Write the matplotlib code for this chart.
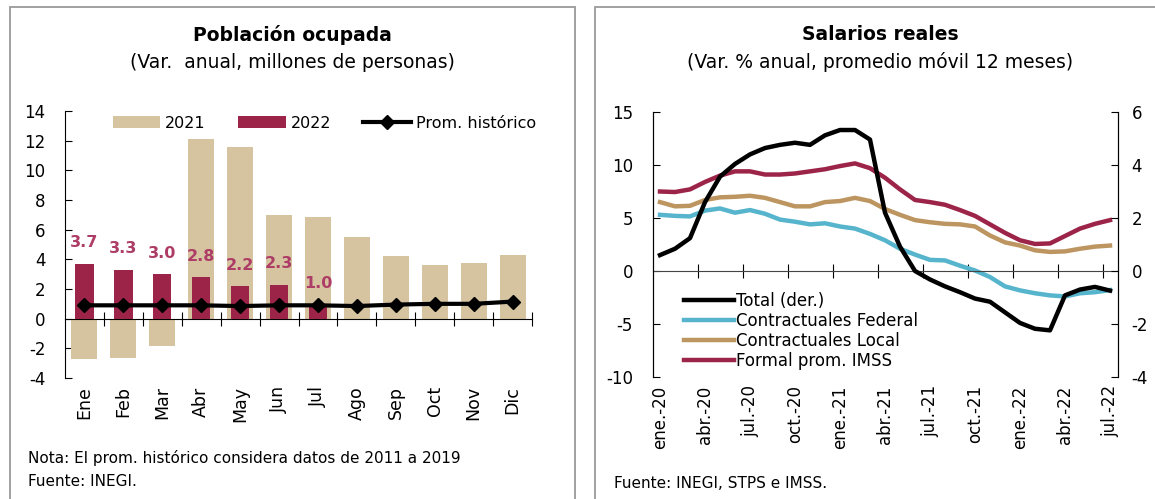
import numpy as np
import matplotlib.pyplot as plt
from matplotlib.patches import Rectangle

plt.rcParams['font.family'] = ['DejaVu Sans']
plt.rcParams['axes.unicode_minus'] = False

# --- Población ocupada (left panel) ---
meses = ['Ene', 'Feb', 'Mar', 'Abr', 'May', 'Jun', 'Jul', 'Ago', 'Sep', 'Oct', 'Nov', 'Dic']
pob_2021 = [-2.75, -2.65, -1.85, 12.1, 11.6, 7.0, 6.85, 5.5, 4.25, 3.65, 3.75, 4.3]
pob_2022 = [3.7, 3.3, 3.0, 2.8, 2.2, 2.3, 1.0]
prom_hist = [0.9, 0.9, 0.9, 0.9, 0.85, 0.9, 0.9, 0.85, 0.95, 1.0, 1.0, 1.15]

# --- Salarios reales (right panel), monthly ene.-20 .. jul.-22 ---
fechas = ['ene.-20', 'feb.-20', 'mar.-20', 'abr.-20', 'may.-20', 'jun.-20', 'jul.-20',
          'ago.-20', 'sep.-20', 'oct.-20', 'nov.-20', 'dic.-20', 'ene.-21', 'feb.-21',
          'mar.-21', 'abr.-21', 'may.-21', 'jun.-21', 'jul.-21', 'ago.-21', 'sep.-21',
          'oct.-21', 'nov.-21', 'dic.-21', 'ene.-22', 'feb.-22', 'mar.-22', 'abr.-22',
          'may.-22', 'jun.-22', 'jul.-22']
total_der = [0.6, 0.84, 1.24, 2.6, 3.56, 4.04, 4.4, 4.64, 4.76, 4.84, 4.76, 5.12, 5.32,
             5.32, 4.96, 2.2, 0.92, 0.0, -0.32, -0.58, -0.8, -1.04, -1.16, -1.56, -1.96,
             -2.18, -2.24, -0.92, -0.7, -0.6, -0.74]
contr_federal = [5.3, 5.2, 5.15, 5.7, 5.9, 5.5, 5.75, 5.4, 4.85, 4.65, 4.4, 4.5, 4.2, 4.0,
                 3.5, 2.9, 2.1, 1.55, 1.05, 1.0, 0.5, 0.05, -0.57, -1.45, -1.83, -2.1,
                 -2.3, -2.4, -2.1, -2.0, -1.8]
contr_local = [6.5, 6.1, 6.15, 6.7, 6.95, 7.0, 7.1, 6.9, 6.5, 6.1, 6.1, 6.5, 6.6, 6.9,
               6.6, 5.85, 5.3, 4.8, 4.6, 4.45, 4.4, 4.2, 3.35, 2.7, 2.4, 1.95, 1.8, 1.85,
               2.1, 2.3, 2.4]
formal_imss = [7.5, 7.45, 7.7, 8.4, 9.0, 9.4, 9.4, 9.1, 9.1, 9.2, 9.4, 9.6, 9.9, 10.15,
               9.7, 8.8, 7.7, 6.7, 6.5, 6.25, 5.75, 5.2, 4.4, 3.6, 2.9, 2.55, 2.6, 3.3,
               4.0, 4.45, 4.8]

c2021 = '#d6c4a0'
c2022 = '#9d2449'
clabel = '#ad3d66'
ccyan = '#56b5cc'
ctan = '#bd9560'

fig = plt.figure(figsize=(11.55, 4.99), dpi=100)

# panel frames
fig.add_artist(Rectangle((9.6 / 1155, -0.1), (575 - 9.6) / 1155, 1.086, transform=fig.transFigure,
                         fill=False, ec='#9a9a9a', lw=1.3))
fig.add_artist(Rectangle((595 / 1155, -0.1), 0.6, 1.086, transform=fig.transFigure,
                         fill=False, ec='#9a9a9a', lw=1.3))

# ---------------- left panel ----------------
ax = fig.add_axes([65 / 1155, 1 - 378 / 499, (532 - 65) / 1155, (378 - 111) / 499])
x = np.arange(len(meses))
b1 = ax.bar(x, pob_2021, width=0.67, color=c2021, label='2021', zorder=2)
x22 = np.arange(len(pob_2022))
b2 = ax.bar(x22, pob_2022, width=0.47, color=c2022, label='2022', zorder=3)
p1, = ax.plot(x, prom_hist, color='black', lw=3, marker='D', ms=7, label='Prom. histórico', zorder=4)
for xi, v in zip(x22, pob_2022):
    ax.annotate(f'{v:.1f}', (xi, v), xytext=(0, 15), textcoords='offset points',
                ha='center', va='center', color=clabel, fontsize=11.5, fontweight='bold')

ax.set_xlim(-0.5, 11.5)
ax.set_ylim(-4, 14)
ax.set_yticks(np.arange(-4, 15, 2))
ax.tick_params(axis='y', direction='in', length=5, labelsize=12, pad=14)
for s in ['top', 'right']:
    ax.spines[s].set_visible(False)
ax.spines['bottom'].set_position(('data', 0))
ax.set_xticks(np.arange(0.5, 12, 1))
ax.tick_params(axis='x', direction='inout', length=10, labelbottom=False)
lab = ax.secondary_xaxis('bottom')
lab.set_xticks(x, meses, rotation=90, fontsize=12.5)
lab.tick_params(length=0, pad=6)
lab.spines['bottom'].set_visible(False)
ax.legend(handles=[b1, b2, p1], loc='center', bbox_to_anchor=(0.555, 0.955), ncol=3,
          frameon=False, fontsize=11.5, handlelength=3.0, handleheight=0.8,
          columnspacing=2.0, handletextpad=0.3)

fig.text(292 / 1155, 1 - 35 / 499, 'Población ocupada', ha='center', va='center',
         fontsize=13.5, fontweight='bold')
fig.text(292 / 1155, 1 - 62 / 499, '(Var.  anual, millones de personas)', ha='center',
         va='center', fontsize=13.5)
fig.text(28 / 1155, 1 - 458 / 499, 'Nota: El prom. histórico considera datos de 2011 a 2019',
         ha='left', va='center', fontsize=11)
fig.text(28 / 1155, 1 - 481 / 499, 'Fuente: INEGI.', ha='left', va='center', fontsize=11)

# ---------------- right panel ----------------
ax2 = fig.add_axes([652.5 / 1155, 1 - 377 / 499, 465 / 1155, (377 - 112) / 499])
t = np.arange(len(fechas))
l1, = ax2.plot(t, contr_federal, color=ccyan, lw=3.2, label='Contractuales Federal')
l2, = ax2.plot(t, contr_local, color=ctan, lw=3.2, label='Contractuales Local')
l3, = ax2.plot(t, formal_imss, color=c2022, lw=3.2, label='Formal prom. IMSS')
ax2.set_xlim(-0.5, 30.5)
ax2.set_ylim(-10, 15)
ax2.set_yticks(np.arange(-10, 16, 5))
ax2.tick_params(axis='y', direction='in', length=5, labelsize=12, pad=14)
ax2.spines['top'].set_visible(False)
ax2.spines['bottom'].set_position(('data', 0))
ax2.spines['bottom'].set_color('#444444')
ax2.set_xticks(np.arange(2.5, 30, 3))
ax2.tick_params(axis='x', direction='inout', length=10, labelbottom=False)
lab2 = ax2.secondary_xaxis('bottom')
lab2.set_xticks(t[::3], fechas[::3], rotation=90, fontsize=12)
lab2.tick_params(length=0, pad=6)
lab2.spines['bottom'].set_visible(False)

ax3 = ax2.twinx()
l0, = ax3.plot(t, total_der, color='black', lw=3.2, label='Total (der.)')
ax3.set_ylim(-4, 6)
ax3.set_yticks(np.arange(-4, 7, 2))
ax3.tick_params(axis='y', direction='in', length=5, labelsize=12, pad=10)
ax3.spines['top'].set_visible(False)
ax3.spines['bottom'].set_visible(False)
ax3.legend(handles=[l0, l1, l2, l3], loc='lower left', bbox_to_anchor=(0.035, -0.03),
           frameon=False, fontsize=12, handlelength=3.0, handletextpad=0.15, labelspacing=0.12)

fig.text(880 / 1155, 1 - 35 / 499, 'Salarios reales', ha='center', va='center',
         fontsize=13.5, fontweight='bold')
fig.text(880 / 1155, 1 - 62 / 499, '(Var. % anual, promedio móvil 12 meses)', ha='center',
         va='center', fontsize=13.5)
fig.text(614 / 1155, 1 - 483 / 499, 'Fuente: INEGI, STPS e IMSS.', ha='left', va='center',
         fontsize=11)

fig.savefig('out.png', dpi=100)
